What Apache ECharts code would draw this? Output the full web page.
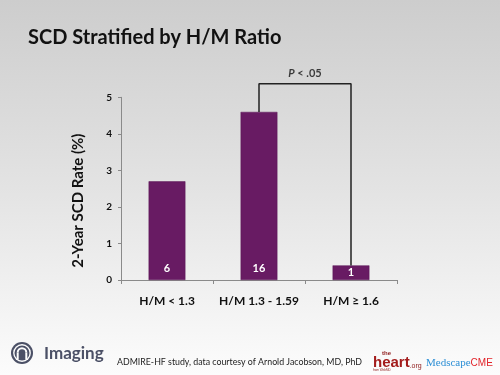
<!DOCTYPE html>
<html>
<head>
<meta charset="utf-8">
<script src="https://cdn.jsdelivr.net/npm/echarts@6/dist/echarts.min.js"></script>
<style>
html,body{margin:0;padding:0;}
#c{width:500px;height:375px;}
</style>
</head>
<body>
<div id="c"></div>
<script>
// ---- data ----
var categories = ['H/M < 1.3', 'H/M 1.3 - 1.59', 'H/M \u2265 1.6'];
var scdRates = [2.7, 4.6, 0.4];
var eventCounts = [6, 16, 1];
var yTicks = [0, 1, 2, 3, 4, 5];
var bracketFrom = 1;   // category index
var bracketTo = 2;     // category index
var bracketLevel = 5.37;
var pLabel = '< .05';

var FONT = 'Lato, "Open Sans", sans-serif';
var chart = echarts.init(document.getElementById('c'), null, {renderer: 'canvas'});

var barData = scdRates.map(function (v, i) {
  var d = {value: v};
  if (v < 1) { d.label = {position: 'inside'}; }
  return d;
});

var bracketData = [
  [bracketFrom, scdRates[bracketFrom]],
  [bracketFrom, bracketLevel],
  [bracketTo, bracketLevel],
  [bracketTo, scdRates[bracketTo]]
];

var LOGO = '#4b5066';

var option = {
  backgroundColor: {
    type: 'linear', x: 0, y: 0, x2: 0, y2: 1,
    colorStops: [
      {offset: 0, color: '#cdcdcd'},
      {offset: 0.5, color: '#e3e3e3'},
      {offset: 1, color: '#fcfcfc'}
    ]
  },
  animation: false,
  title: {
    text: 'SCD Stratified by H/M Ratio',
    left: 23, top: 23,
    textStyle: {fontFamily: FONT, fontWeight: 'bold', fontSize: 20, color: '#111'}
  },
  grid: {left: 121, right: 103, top: 97.3, bottom: 95},
  xAxis: [{
    type: 'category',
    data: categories,
    axisLine: {lineStyle: {color: '#8a8a8a', width: 1}},
    axisTick: {show: true, length: 4, lineStyle: {color: '#8a8a8a'}},
    axisLabel: {interval: 0, margin: 15, fontFamily: FONT, fontWeight: 'bold', fontSize: 12, color: '#111'}
  }, {
    // hidden value axis aligned with category centres (index i at value i)
    type: 'value',
    min: -0.5, max: categories.length - 0.5,
    show: false
  }],
  yAxis: {
    type: 'value',
    min: yTicks[0], max: yTicks[yTicks.length - 1], interval: 1,
    name: '2-Year SCD Rate (%)',
    nameLocation: 'middle',
    nameGap: 35,
    nameTextStyle: {fontFamily: FONT, fontWeight: 'bold', fontSize: 15, color: '#111', padding: [0, 24, 0, 0]},
    axisLine: {show: true, onZero: false, lineStyle: {color: '#8a8a8a', width: 1}},
    axisTick: {show: true, length: 3, lineStyle: {color: '#8a8a8a'}},
    splitLine: {show: false},
    axisLabel: {margin: 9, fontFamily: FONT, fontWeight: 'bold', fontSize: 10, color: '#111'}
  },
  series: [
    {
      type: 'bar',
      data: barData,
      barWidth: '40%',
      itemStyle: {color: '#681b63', borderColor: '#5a1556', borderWidth: 0.5},
      label: {
        show: true,
        position: 'insideBottom',
        distance: 6,
        fontFamily: FONT, fontWeight: 'bold', fontSize: 11, color: '#fff',
        formatter: function (p) { return String(eventCounts[p.dataIndex]); }
      },
      z: 2
    },
    {
      type: 'line',
      xAxisIndex: 1,
      data: bracketData,
      clip: false,
      symbol: 'none',
      lineStyle: {color: '#222', width: 1.5},
      z: 3,
      silent: true
    },
    {
      type: 'scatter',
      xAxisIndex: 1,
      data: [[(bracketFrom + bracketTo) / 2, bracketLevel]],
      clip: false,
      symbolSize: 1,
      itemStyle: {color: 'rgba(0,0,0,0)'},
      silent: true,
      label: {
        show: true,
        position: 'top',
        distance: 4,
        formatter: '{i|P} ' + pLabel,
        fontFamily: FONT, fontWeight: 'bold', fontSize: 11, color: '#111',
        rich: {i: {fontFamily: FONT, fontWeight: 'bold', fontStyle: 'italic', fontSize: 11, color: '#111'}}
      }
    }
  ],
  graphic: [
    // Imaging logo
    {type: 'circle', shape: {cx: 22, cy: 353, r: 11}, style: {fill: LOGO}},
    {type: 'circle', shape: {cx: 22, cy: 353, r: 8.9}, style: {fill: '#fdfdfd'}},
    {type: 'circle', shape: {cx: 22, cy: 353, r: 7.5}, style: {fill: LOGO}},
    {type: 'arc', shape: {cx: 22, cy: 352.5, r: 4.3, startAngle: Math.PI, endAngle: 2 * Math.PI}, style: {stroke: '#fdfdfd', lineWidth: 2, fill: null}},
    {type: 'line', shape: {x1: 17.7, y1: 352.5, x2: 17.7, y2: 359.5}, style: {stroke: '#fdfdfd', lineWidth: 2}},
    {type: 'line', shape: {x1: 26.3, y1: 352.5, x2: 26.3, y2: 359.5}, style: {stroke: '#fdfdfd', lineWidth: 2}},
    {type: 'text', left: 44, top: 345, style: {text: 'Imaging', fontFamily: FONT, fontWeight: 'bold', fontSize: 17, fill: LOGO}},
    {type: 'text', left: 117, top: 358, style: {text: 'ADMIRE-HF study, data courtesy of Arnold Jacobson, MD, PhD', fontFamily: FONT, fontSize: 8.8, fill: '#222'}},
    // theheart.org
    {type: 'text', left: 382, top: 350, style: {text: 'the', fontFamily: '"Liberation Sans", Arial, sans-serif', fontWeight: 'bold', fontSize: 6, fill: '#8e1a1a'}},
    {type: 'text', left: 373, top: 355, style: {
      text: '{h|heart}{o|.org}',
      rich: {
        h: {fontFamily: '"Liberation Sans", Arial, sans-serif', fontWeight: 'bold', fontSize: 15, fill: '#a31c1c', color: '#a31c1c', verticalAlign: 'bottom'},
        o: {fontFamily: '"Liberation Sans", Arial, sans-serif', fontSize: 7, fill: '#8e1a1a', color: '#8e1a1a', verticalAlign: 'bottom'}
      }
    }},
    {type: 'text', left: 373, top: 369, style: {text: 'from WebMD', fontFamily: '"Liberation Sans", Arial, sans-serif', fontSize: 3, fill: '#8e1a1a'}},
    // MedscapeCME
    {type: 'text', left: 426, top: 358, style: {
      text: '{m|Medscape}{c|CME}',
      rich: {
        m: {fontFamily: '"Liberation Serif", "Times New Roman", serif', fontSize: 11, color: '#2d8fd5', fill: '#2d8fd5'},
        c: {fontFamily: '"Liberation Sans", Arial, sans-serif', fontSize: 10, color: '#e2242a', fill: '#e2242a'}
      }
    }}
  ]
};
chart.setOption(option);
</script>
</body>
</html>
